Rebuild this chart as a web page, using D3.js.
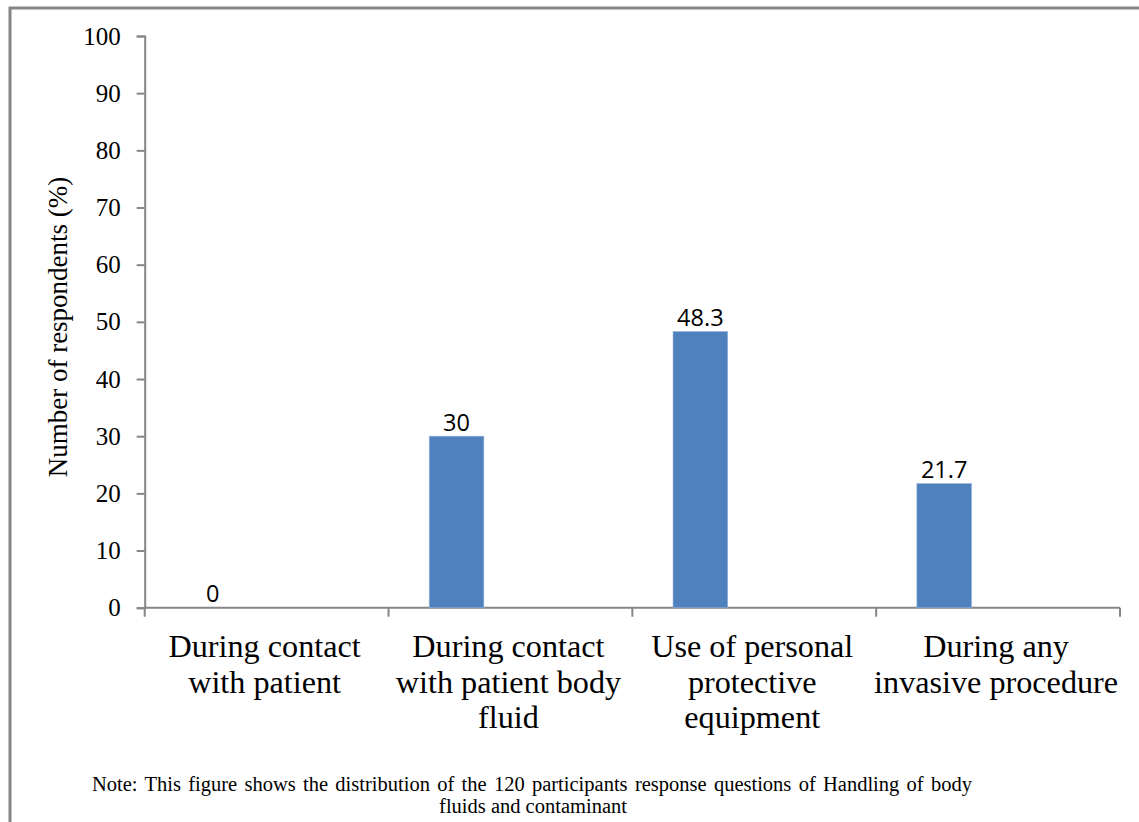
<!DOCTYPE html>
<html>
<head>
<meta charset="utf-8">
<script src="https://cdn.jsdelivr.net/npm/d3@7/dist/d3.min.js"></script>
<style>
  html, body { margin: 0; padding: 0; background: #fff; }
  svg { display: block; }
</style>
</head>
<body>
<svg id="chart" width="1139" height="822"></svg>
<script>
// ---- data ----
const categories = [
  "During contact\nwith patient",
  "During contact\nwith patient body\nfluid",
  "Use of personal\nprotective\nequipment",
  "During any\ninvasive procedure"
];
const series = ["Series 1", "Series 2"];
const values = [0, 30, 48.3, 21.7];
const labels = ["0", "30", "48.3", "21.7"];
const yTicks = [0, 10, 20, 30, 40, 50, 60, 70, 80, 90, 100];
const yTitle = "Number of respondents (%)";
const noteLines = [
  "Note: This figure shows the distribution of the 120 participants response questions of Handling of body",
  "fluids and contaminant"
];

// ---- layout ----
const svg = d3.select("#chart");
const W = 1139, H = 822;
const plot = { left: 144.7, right: 1120, top: 36, bottom: 607.7 };
const axisColor = "#868686";
const barColor = "#4F81BD";
const serif = "'Liberation Serif', 'Times New Roman', serif";
const sans = "'Open Sans', 'Liberation Sans', sans-serif";

// outer frame
svg.append("rect")
  .attr("x", 10).attr("y", 8)
  .attr("width", W + 50).attr("height", H + 50)
  .attr("fill", "none").attr("stroke", axisColor).attr("stroke-width", 3);

const x = d3.scaleBand().domain(categories).range([plot.left, plot.right]).padding(0);
const xs = d3.scaleBand().domain(series).range([0, x.bandwidth()])
  .paddingInner(0.4935).paddingOuter(0.3776);
const y = d3.scaleLinear().domain([0, 100]).range([plot.bottom, plot.top]);

// y axis
const yAxis = svg.append("g")
  .attr("transform", `translate(${plot.left},0)`)
  .call(d3.axisLeft(y).tickValues(yTicks).tickSize(8).tickPadding(16).tickFormat(d3.format("d")));
yAxis.select(".domain").attr("stroke", axisColor).attr("stroke-width", 2);
yAxis.selectAll(".tick line").attr("stroke", axisColor).attr("stroke-width", 2);
yAxis.selectAll(".tick text")
  .attr("font-family", serif).attr("font-size", 25).attr("fill", "#000");

// x axis: ticks at category boundaries
const xAxisG = svg.append("g").attr("transform", `translate(0,${plot.bottom})`);
xAxisG.append("line")
  .attr("x1", plot.left).attr("x2", plot.right)
  .attr("stroke", axisColor).attr("stroke-width", 2);
const boundaries = categories.map(c => x(c)).concat([x(categories[categories.length - 1]) + x.bandwidth()]);
xAxisG.selectAll("line.tick").data(boundaries).enter().append("line")
  .attr("class", "tick")
  .attr("x1", d => d).attr("x2", d => d)
  .attr("y1", 0).attr("y2", 9)
  .attr("stroke", axisColor).attr("stroke-width", 2);

// category labels
const catG = svg.append("g");
categories.forEach(c => {
  const lines = c.split("\n");
  const cx = x(c) + x.bandwidth() / 2 - 2;
  const t = catG.append("text")
    .attr("x", cx)
    .attr("y", 657)
    .attr("text-anchor", "middle")
    .attr("font-family", serif).attr("font-size", 32.2).attr("fill", "#000");
  lines.forEach((l, i) => {
    t.append("tspan").attr("x", cx).attr("dy", i === 0 ? 0 : 35.5).text(l);
  });
});

// bars
svg.append("g").selectAll("rect").data(values).enter().append("rect")
  .attr("x", (d, i) => x(categories[i]) + xs(series[0]))
  .attr("width", xs.bandwidth())
  .attr("y", d => y(d))
  .attr("height", d => y(0) - y(d))
  .attr("fill", barColor)
  .attr("stroke", "#8fb0dc").attr("stroke-width", 0.6);

// data labels
svg.append("g").selectAll("text").data(values).enter().append("text")
  .attr("x", (d, i) => x(categories[i]) + xs(series[0]) + xs.bandwidth() / 2)
  .attr("y", d => y(d) - 5.5)
  .attr("text-anchor", "middle")
  .attr("font-family", sans).attr("font-size", 23.5).attr("fill", "#000")
  .text((d, i) => labels[i]);

// y title
svg.append("text")
  .attr("transform", `translate(67,327) rotate(-90)`)
  .attr("text-anchor", "middle")
  .attr("font-family", serif).attr("font-size", 27).attr("fill", "#000")
  .text(yTitle);

// note (first line justified via word spacing)
const note1 = svg.append("text")
  .attr("x", 92).attr("y", 791)
  .attr("font-family", serif).attr("font-size", 20.5).attr("fill", "#000")
  .text(noteLines[0]);
const natural = note1.node().getComputedTextLength();
const spaces = (noteLines[0].match(/ /g) || []).length;
const extra = Math.max(0, (880 - natural) / spaces);
note1.attr("word-spacing", extra);
svg.append("text")
  .attr("x", 533).attr("y", 813)
  .attr("text-anchor", "middle")
  .attr("font-family", serif).attr("font-size", 20.5).attr("fill", "#000")
  .text(noteLines[1]);
</script>
</body>
</html>
